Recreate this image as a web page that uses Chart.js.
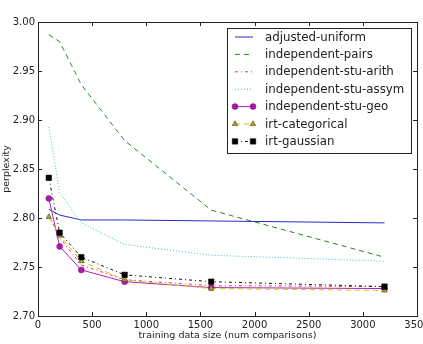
<!DOCTYPE html>
<html>
<head>
<meta charset="utf-8">
<script src="https://cdn.jsdelivr.net/npm/chart.js@4.4.1/dist/chart.umd.min.js"></script>
<style>
  html, body { margin: 0; padding: 0; background: #fff; }
  #wrap { width: 423px; height: 344px; }
</style>
</head>
<body>
<div id="wrap"><canvas id="perplexityChart" width="423" height="344"></canvas></div>
<script>
// training sizes on the x axis
const sizes = [100, 200, 400, 800, 1600, 3200];

// perplexity per method
const adjustedUniform = [2.809, 2.803, 2.798, 2.798, 2.797, 2.795];
const independentPairs = [2.987, 2.980, 2.936, 2.879, 2.808, 2.760];
const stuArith = [2.803, 2.780, 2.752, 2.737, 2.731, 2.730];
const stuAssym = [2.893, 2.826, 2.795, 2.773, 2.762, 2.756];
const stuGeo = [2.820, 2.771, 2.747, 2.735, 2.729, 2.728];
const irtCategorical = [2.801, 2.782, 2.756, 2.737, 2.728, 2.726];
const irtGaussian = [2.841, 2.785, 2.760, 2.742, 2.735, 2.730];

const seriesNames = ['adjusted-uniform', 'independent-pairs', 'independent-stu-arith',
    'independent-stu-assym', 'independent-stu-geo', 'irt-categorical', 'irt-gaussian'];

const xTicks = [0, 500, 1000, 1500, 2000, 2500, 3000, 3500];
const yTicks = [2.70, 2.75, 2.80, 2.85, 2.90, 2.95, 3.00];

const FONT = 'DejaVu Sans';

function pts(ys) {
    return sizes.map((x, i) => ({ x: x, y: ys[i] }));
}

function series(label, ys, color, dash, extra) {
    return Object.assign({
        label: label,
        data: pts(ys),
        borderColor: color,
        backgroundColor: color,
        borderWidth: 1,
        borderDash: dash,
        pointRadius: 0,
        pointHoverRadius: 0,
        tension: 0,
        fill: false
    }, extra || {});
}

const datasets = [
    series(seriesNames[0], adjustedUniform, '#2b2bc4', []),
    series(seriesNames[1], independentPairs, '#1f8a1f', [5, 4]),
    series(seriesNames[2], stuArith, '#ff3030', [3, 3, 1, 3]),
    series(seriesNames[3], stuAssym, '#33c4c4', [1, 2]),
    series(seriesNames[4], stuGeo, '#b020b0', [], {
        pointRadius: 3, pointStyle: 'circle', pointBackgroundColor: '#a81aa8', pointBorderColor: '#8a108a', pointBorderWidth: 0.5
    }),
    series(seriesNames[5], irtCategorical, '#c8c820', [5, 4], {
        pointRadius: 3.2, pointStyle: 'triangle', pointBackgroundColor: '#a8a830', pointBorderColor: '#444400', pointBorderWidth: 0.6
    }),
    series(seriesNames[6], irtGaussian, '#111111', [3, 3, 1, 3], {
        pointRadius: 3.9, pointStyle: 'rect', pointBackgroundColor: '#000000', pointBorderColor: '#000000', pointBorderWidth: 0.5
    })
];
// matplotlib draws later series on top
datasets.forEach((d, i) => { d.order = datasets.length - i; });

// frame with inward ticks on all four sides
const framePlugin = {
    id: 'frame',
    afterDatasetsDraw(chart) {
        const ctx = chart.ctx;
        const a = chart.chartArea;
        const xs = chart.scales.x, ys = chart.scales.y;
        ctx.save();
        ctx.strokeStyle = '#222';
        ctx.lineWidth = 1;
        ctx.setLineDash([]);
        ctx.strokeRect(Math.round(a.left) + 0.5, Math.round(a.top) + 0.5,
            Math.round(a.right - a.left), Math.round(a.bottom - a.top));
        ctx.beginPath();
        xTicks.forEach(v => {
            const px = Math.round(xs.getPixelForValue(v)) + 0.5;
            ctx.moveTo(px, a.bottom); ctx.lineTo(px, a.bottom - 4);
            ctx.moveTo(px, a.top); ctx.lineTo(px, a.top + 4);
        });
        yTicks.forEach(v => {
            const py = Math.round(ys.getPixelForValue(v)) + 0.5;
            ctx.moveTo(a.left, py); ctx.lineTo(a.left + 4, py);
            ctx.moveTo(a.right, py); ctx.lineTo(a.right - 4, py);
        });
        ctx.stroke();
        ctx.restore();
    }
};

// legend box inside the plot, upper right
const legendPlugin = {
    id: 'boxLegend',
    afterDraw(chart) {
        const ctx = chart.ctx;
        const bx = 227, by = 28, bw = 184, bh = 125;
        ctx.save();
        ctx.fillStyle = '#fff';
        ctx.fillRect(bx, by, bw, bh);
        ctx.strokeStyle = '#222';
        ctx.lineWidth = 1;
        ctx.strokeRect(bx + 0.5, by + 0.5, bw, bh);
        ctx.font = '11.8px "' + FONT + '"';
        ctx.textBaseline = 'middle';
        chart.data.datasets.forEach((d, i) => {
            const y = by + 9 + i * 17.4;
            const x0 = 235, x1 = 253;
            ctx.strokeStyle = d.borderColor;
            ctx.lineWidth = d.borderWidth;
            ctx.setLineDash(d.borderDash);
            ctx.beginPath();
            ctx.moveTo(x0, y); ctx.lineTo(x1, y);
            ctx.stroke();
            ctx.setLineDash([]);
            if (d.pointRadius > 0) {
                ctx.fillStyle = d.pointBackgroundColor;
                ctx.strokeStyle = d.pointBorderColor;
                ctx.lineWidth = d.pointBorderWidth;
                [x0, x1].forEach(px => {
                    Chart.helpers.drawPoint(ctx, {
                        pointStyle: d.pointStyle, radius: d.pointRadius, rotation: 0, borderWidth: d.pointBorderWidth
                    }, px, y);
                });
            }
            ctx.fillStyle = '#222';
            ctx.fillText(d.label, 265, y + 0.5);
        });
        ctx.restore();
    }
};

new Chart(document.getElementById('perplexityChart'), {
    type: 'line',
    data: { datasets: datasets },
    options: {
        responsive: false,
        animation: false,
        events: [],
        layout: { padding: { top: 22, right: 6, left: 1, bottom: 3 } },
        plugins: {
            legend: { display: false },
            tooltip: { enabled: false }
        },
        scales: {
            x: {
                type: 'linear',
                min: 0,
                max: 3500,
                grid: { display: false, drawTicks: false },
                border: { display: false },
                ticks: {
                    stepSize: 500,
                    maxRotation: 0,
                    padding: 3,
                    color: '#222',
                    font: { family: FONT, size: 10 },
                    callback: v => String(v)
                },
                title: {
                    display: true,
                    text: 'training data size (num comparisons)',
                    color: '#222',
                    font: { family: FONT, size: 9.5 },
                    padding: { top: 0, bottom: 0 }
                },
                afterFit(scale) {
                    scale.height = 25;
                    scale.paddingLeft = 0;
                    scale.paddingRight = 0;
                }
            },
            y: {
                type: 'linear',
                min: 2.7,
                max: 3.0,
                grid: { display: false, drawTicks: false },
                border: { display: false },
                ticks: {
                    stepSize: 0.05,
                    padding: 3,
                    color: '#222',
                    font: { family: FONT, size: 10 },
                    callback: v => v.toFixed(2)
                },
                title: {
                    display: true,
                    text: 'perplexity',
                    color: '#222',
                    font: { family: FONT, size: 9.5 },
                    padding: { top: 0, bottom: 0 }
                },
                afterFit(scale) {
                    scale.width = 37;
                    scale.paddingTop = 0;
                    scale.paddingBottom = 0;
                }
            }
        }
    },
    plugins: [framePlugin, legendPlugin]
});
</script>
</body>
</html>
